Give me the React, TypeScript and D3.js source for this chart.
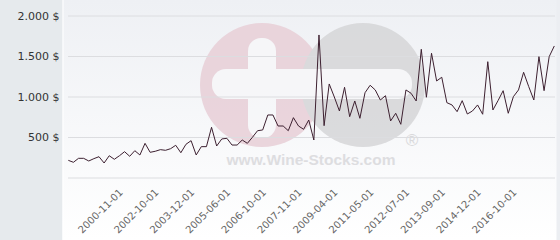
import React from "react";
import * as d3 from "d3";

const prices: number[] = [
  218, 194, 243, 243, 210, 239, 263, 185, 275, 231,
  275, 325, 268, 337, 284, 428, 317, 330, 350, 342,
  362, 404, 312, 416, 461, 284, 387, 387, 626, 395,
  482, 490, 407, 407, 469, 428, 503, 584, 593, 778,
  778, 642, 642, 584, 745, 642, 601, 716, 469, 1766,
  646, 1161, 1000, 827, 1120, 757, 951, 737, 1053, 1145,
  1087, 963, 1016, 704, 799, 663, 1087, 1046, 951, 1589,
  997, 1540, 1198, 1244, 930, 902, 819, 955, 790, 827,
  902, 787, 1436, 840, 955, 1078, 799, 1004, 1087, 1305,
  1128, 963, 1498, 1078, 1498, 1630,
];

const tickLabels: string[] = [
  "2000-11-01", "2002-10-01", "2003-12-01", "2005-06-01", "2006-10-01", "2007-11-01",
  "2009-04-01", "2011-05-01", "2012-07-01", "2013-09-01", "2014-12-01", "2016-10-01",
];
const tickIndices: number[] = [10, 17, 24, 31, 38, 45, 52, 59, 66, 73, 80, 87];
const yTicks: number[] = [500, 1000, 1500, 2000];
const gridValues: number[] = [0, 500, 1000, 1500, 2000];

const W = 560;
const H = 240;

export default function App() {
  const x = d3.scaleLinear().domain([0, prices.length - 1]).range([68.3, 554.3]);
  const y = d3.scaleLinear().domain([0, 2000]).range([178, 16]);
  const line = d3
    .line<number>()
    .x((_, i) => x(i))
    .y((d) => y(d));
  const fmt = (v: number) => d3.format(",")(v).replace(/,/g, ".") + " $";

  return (
    <svg
      width={W}
      height={H}
      style={{ position: "absolute", left: 0, top: 0 }}
      fontFamily="DejaVu Sans, sans-serif"
    >
      <defs>
        <linearGradient id="bg" x1="0" y1="0" x2="0" y2="1">
          <stop offset="0" stopColor="#eef0f4" />
          <stop offset="1" stopColor="#ffffff" />
        </linearGradient>
      </defs>
      <rect x={0} y={0} width={W} height={H} fill="url(#bg)" />
      <rect x={0} y={0} width={62.5} height={H} fill="#e6eaed" />
      <rect x={62.5} y={0} width={1} height={H} fill="#ffffff" />
      <rect x={556.5} y={0} width={3.5} height={H} fill="#eceef2" />

      {/* watermark */}
      <g opacity={0.85}>
        <circle cx={262} cy={85} r={62} fill="#e8cfd7" />
        <circle cx={363} cy={85} r={62} fill="#d6d6d8" />
        <rect x={248} y={38} width={28} height={100} rx={13} fill="#f7f7f9" />
        <rect x={212} y={69} width={200} height={30} rx={14} fill="#f7f7f9" />
        <text x={311} y={165} textAnchor="middle" fontFamily="Liberation Sans, Arial, sans-serif" fontWeight="bold" fontSize={15.5} fill="#d9d9dc">
          www.Wine-Stocks.com
        </text>
        <text x={412} y={146} textAnchor="middle" fontFamily="Liberation Sans, Arial, sans-serif" fontSize={17} fill="#d4d4d6">
          ®
        </text>
      </g>

      {gridValues.map((v) => (
        <line key={v} x1={68} x2={555} y1={y(v)} y2={y(v)} stroke="#dcdde0" strokeWidth={1} />
      ))}

      {yTicks.map((v) => (
        <text key={v} x={59.5} y={y(v) + 3.5} textAnchor="end" fontSize={11} fill="#333">
          {fmt(v)}
        </text>
      ))}

      {tickIndices.map((idx, k) => (
        <text
          key={idx}
          transform={`translate(${x(idx) + 4},${193}) rotate(-45)`}
          textAnchor="end"
          fontSize={10}
          fill="#666"
        >
          {tickLabels[k]}
        </text>
      ))}

      <path d={line(prices) || ""} fill="none" stroke="#3d2030" strokeWidth={1} strokeLinejoin="miter" />
    </svg>
  );
}
